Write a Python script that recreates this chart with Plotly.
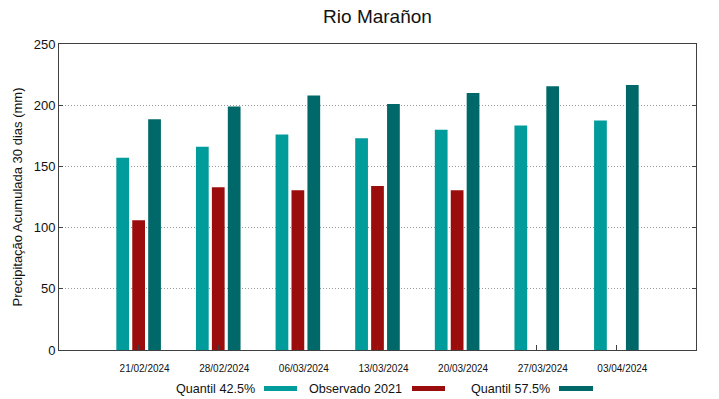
import plotly.graph_objects as go

# ---- data ----
dates = ["21/02/2024", "28/02/2024", "06/03/2024", "13/03/2024",
         "20/03/2024", "27/03/2024", "03/04/2024"]
q425 = [157, 166, 176, 173, 180, 183.5, 187.5]
obs2021 = [106, 133, 130.5, 134, 130.5, None, None]
q575 = [188.5, 199, 208, 201, 210, 215.5, 216.5]
series_names = ["Quantil 42.5%", "Observado 2021", "Quantil 57.5%"]

colors = ["#009b9b", "#9b0c0c", "#006868"]
FONT = "Liberation Sans, Arial, sans-serif"
AXC = "#404040"

idx = list(range(len(dates)))

fig = go.Figure()
for name, vals, col in zip(series_names, [q425, obs2021, q575], colors):
    fig.add_trace(go.Bar(x=idx, y=vals, name=name, marker_color=col,
                         marker_line_width=0, showlegend=False))

W, H = 719, 399
ml, mr, mt, mb = 59, 23, 44, 49
pw = W - ml - mr
ph = H - mt - mb

fig.update_layout(
    width=W, height=H,
    margin=dict(l=ml, r=mr, t=mt, b=mb),
    paper_bgcolor="white", plot_bgcolor="white",
    barmode="group", bargap=0.4, bargroupgap=0.2,
    font=dict(family=FONT, color="#111"),
    title=dict(text="Rio Marañon", x=0.5, xref="paper", xanchor="center",
               y=1 - 16 / H, yref="container", yanchor="middle",
               font=dict(size=19, color="#111")),
)

fig.update_xaxes(range=[-1, 7], tickvals=idx, ticktext=dates,
                 tickfont=dict(size=10, color="#111"),
                 showline=True, linecolor=AXC, linewidth=1, mirror=True,
                 ticks="inside", ticklen=5, tickcolor=AXC,
                 showgrid=False, zeroline=False, ticklabelshift=6,
                 ticklabelstandoff=9)
fig.update_yaxes(range=[0, 250], dtick=50,
                 tickfont=dict(size=13, color="#111"),
                 title=dict(text="Precipitação Acumulada 30 dias (mm)",
                            font=dict(size=13, color="#111"), standoff=8),
                 showline=True, linecolor=AXC, linewidth=1, mirror="ticks",
                 ticks="inside", ticklen=4, tickcolor=AXC,
                 showgrid=True, gridcolor="#999", griddash="1px,2px", gridwidth=1,
                 zeroline=False)

# gnuplot-style legend below the plot: text then coloured sample
legend_text_right = [257, 404, 552]
legend_sample = [(264, 297), (412, 445), (559, 593)]
ly = 388.5

def px2x(px):
    return (px - ml) / pw

def py2y(py):
    return (H - mb - py) / ph

for name, col, tr, (s0, s1) in zip(series_names, colors, legend_text_right, legend_sample):
    fig.add_annotation(text=name, x=px2x(tr), y=py2y(ly), xref="paper", yref="paper",
                       xanchor="right", yanchor="middle", showarrow=False,
                       font=dict(size=12.6, color="#111", family=FONT))
    fig.add_shape(type="line", xref="paper", yref="paper",
                  x0=px2x(s0), x1=px2x(s1), y0=py2y(ly), y1=py2y(ly),
                  line=dict(color=col, width=5))

fig.write_html("out.html", config={"displayModeBar": False},
               post_script="document.body.style.margin='0';")
